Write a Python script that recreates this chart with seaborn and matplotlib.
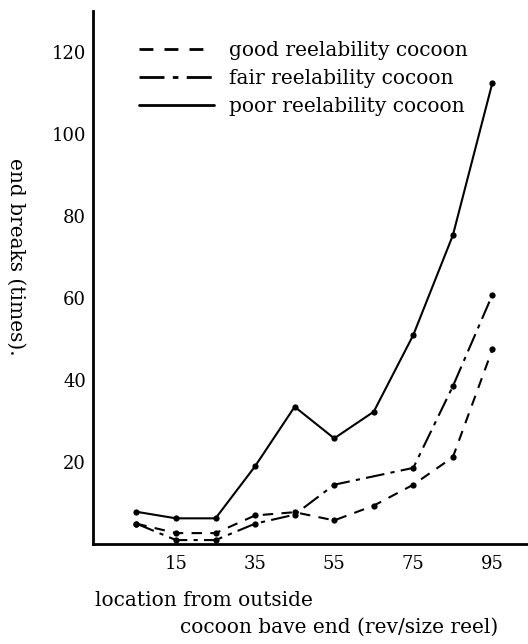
import numpy as np
import pandas as pd
import seaborn as sns
import matplotlib.pyplot as plt
from matplotlib.lines import Line2D

# 数据（从图上读出来的）
x_good = [5, 15, 25, 35, 45, 55, 65, 75, 85, 95]
y_good = [5.0, 2.7, 2.7, 7.0, 7.8, 5.8, 9.4, 14.5, 21.2, 47.5]

x_fair = [5, 15, 25, 35, 45, 55, 75, 85, 95]
y_fair = [5.0, 1.0, 1.0, 5.0, 7.2, 14.5, 18.6, 38.5, 60.8]

x_poor = [5, 15, 25, 35, 45, 55, 65, 75, 85, 95]
y_poor = [7.9, 6.3, 6.3, 19.0, 33.5, 25.8, 32.3, 51.0, 75.3, 112.5]

labels = ['good reelability cocoon', 'fair reelability cocoon', 'poor reelability cocoon']
x_ticks = [15, 35, 55, 75, 95]
y_ticks = [20, 40, 60, 80, 100, 120]

df = pd.concat([
    pd.DataFrame({'loc': x_good, 'breaks': y_good, 'kind': labels[0]}),
    pd.DataFrame({'loc': x_fair, 'breaks': y_fair, 'kind': labels[1]}),
    pd.DataFrame({'loc': x_poor, 'breaks': y_poor, 'kind': labels[2]}),
])

sns.set_style('white')
plt.rcParams['font.family'] = ['DejaVu Serif']
plt.rcParams['text.color'] = 'black'
plt.rcParams['xtick.color'] = 'black'
plt.rcParams['ytick.color'] = 'black'

styles = {
    labels[0]: (0, (5, 4)),
    labels[1]: (0, (9, 3, 2, 3)),
    labels[2]: '-',
}

fig = plt.figure(figsize=(5.28, 6.44), dpi=100)
ax = fig.add_axes([0.176, 0.155, 0.824, 0.828])

for k in labels:
    sub = df[df['kind'] == k]
    sns.lineplot(data=sub, x='loc', y='breaks', ax=ax, color='black',
                 linewidth=1.5, linestyle=styles[k], marker='o',
                 markersize=4.5, markeredgewidth=0, legend=False)

ax.set_xlim(-6, 104)
ax.set_ylim(0, 130)
ax.set_xticks(x_ticks)
ax.set_yticks(y_ticks)
ax.tick_params(direction='in', length=9, width=1.3, labelsize=13, pad=5)
ax.tick_params(axis='x', pad=8)
for s in ['top', 'right']:
    ax.spines[s].set_visible(False)
for s in ['left', 'bottom']:
    ax.spines[s].set_linewidth(2)
    ax.spines[s].set_color('black')
ax.set_xlabel('')
ax.set_ylabel('')

# 图例
handles = [Line2D([], [], color='black', linewidth=2, linestyle=styles[k]) for k in labels]
ax.legend(handles, labels, loc='upper left', bbox_to_anchor=(0.065, 0.978),
          frameon=False, fontsize=14.5, handlelength=3.7, handletextpad=0.75,
          labelspacing=0.45)

# 坐标轴标题
fig.text(0.030, 0.601, 'end breaks (times).', rotation=270, fontsize=14.5,
         ha='center', va='center')
fig.text(0.18, 0.068, 'location from outside', fontsize=14.5, ha='left', va='center')
fig.text(0.34, 0.026, 'cocoon bave end (rev/size reel)', fontsize=14.5, ha='left', va='center')

fig.savefig('out.png', dpi=100, facecolor='white')
